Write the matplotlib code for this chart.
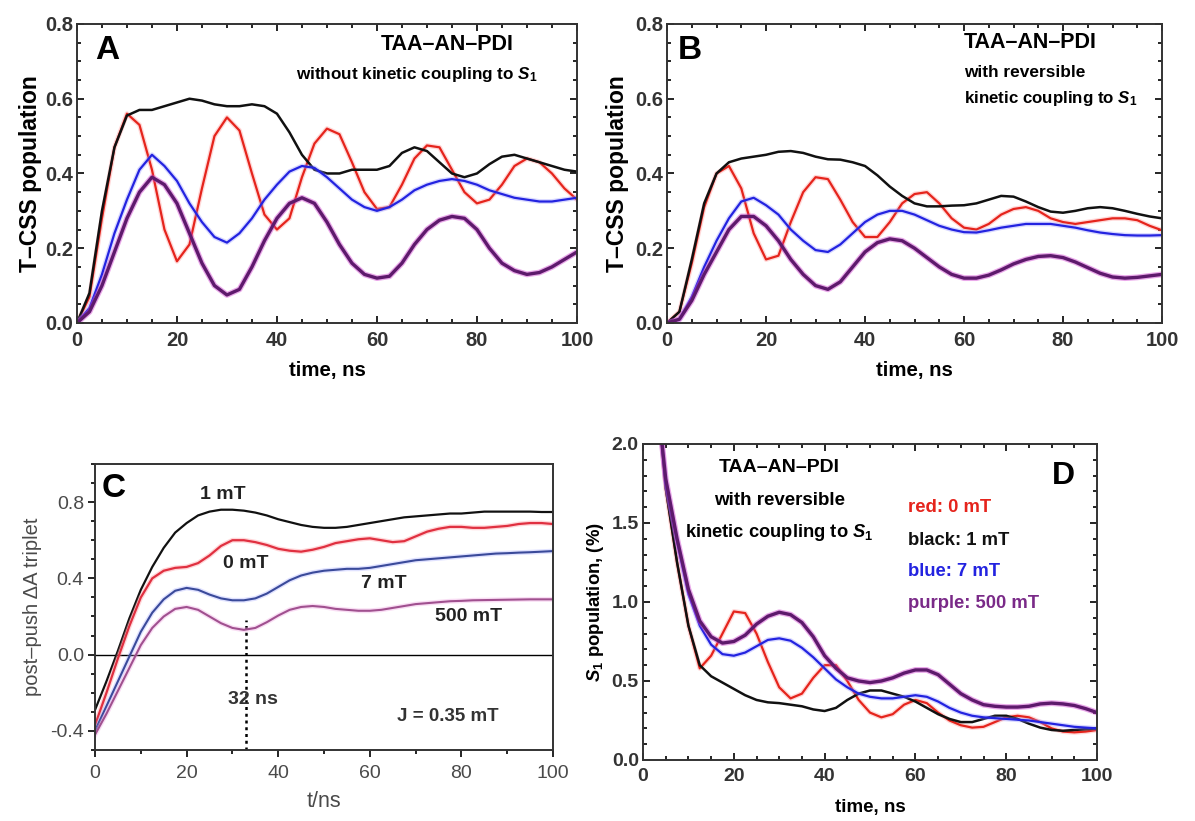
import numpy as np
import matplotlib
matplotlib.use("Agg")
import matplotlib.pyplot as plt
from matplotlib.ticker import MultipleLocator, FormatStrFormatter

plt.rcParams['font.family'] = ['Liberation Sans', 'DejaVu Sans']
plt.rcParams['font.weight'] = 'bold'
plt.rcParams['axes.labelweight'] = 'bold'
plt.rcParams['mathtext.fontset'] = 'custom'
plt.rcParams['mathtext.rm'] = 'Liberation Sans:bold'
plt.rcParams['mathtext.it'] = 'Liberation Sans:bold:italic'
plt.rcParams['mathtext.bf'] = 'Liberation Sans:bold'
plt.rcParams['lines.solid_joinstyle'] = 'round'

# sampling times (ns)
t_ab = np.arange(0, 100.1, 2.5)
t_c = np.arange(0, 100.1, 2.5)
t_d = np.concatenate(([4.0], np.arange(5, 100.1, 2.5)))

# panel A: T-CSS population, no kinetic coupling
a_red = [0, 0.07, 0.28, 0.47, 0.56, 0.53, 0.41, 0.25, 0.165, 0.21, 0.36, 0.50, 0.55, 0.515,
         0.40, 0.29, 0.25, 0.28, 0.39, 0.48, 0.52, 0.505, 0.43, 0.35, 0.305, 0.31, 0.37, 0.44,
         0.475, 0.47, 0.41, 0.35, 0.32, 0.33, 0.37, 0.42, 0.44, 0.43, 0.40, 0.36, 0.33]
a_black = [0, 0.08, 0.30, 0.47, 0.555, 0.57, 0.57, 0.58, 0.59, 0.60, 0.595, 0.585, 0.58, 0.58,
           0.585, 0.58, 0.56, 0.51, 0.45, 0.41, 0.40, 0.40, 0.41, 0.41, 0.41, 0.42, 0.455, 0.47,
           0.46, 0.43, 0.40, 0.39, 0.40, 0.425, 0.445, 0.45, 0.44, 0.43, 0.42, 0.41, 0.405]
a_blue = [0, 0.04, 0.13, 0.24, 0.33, 0.41, 0.45, 0.42, 0.38, 0.32, 0.27, 0.23, 0.215, 0.24,
          0.28, 0.33, 0.37, 0.405, 0.42, 0.415, 0.39, 0.36, 0.33, 0.31, 0.30, 0.31, 0.33, 0.355,
          0.37, 0.38, 0.385, 0.38, 0.37, 0.355, 0.345, 0.335, 0.33, 0.325, 0.325, 0.33, 0.335]
a_purple = [0, 0.03, 0.10, 0.19, 0.28, 0.35, 0.39, 0.37, 0.32, 0.24, 0.16, 0.10, 0.075, 0.09,
            0.15, 0.22, 0.28, 0.32, 0.335, 0.32, 0.27, 0.21, 0.16, 0.13, 0.12, 0.125, 0.16, 0.21,
            0.25, 0.275, 0.285, 0.28, 0.25, 0.20, 0.16, 0.14, 0.13, 0.135, 0.15, 0.17, 0.19]

# panel B: T-CSS population, reversible kinetic coupling
b_red = [0, 0.03, 0.16, 0.31, 0.40, 0.42, 0.36, 0.24, 0.17, 0.18, 0.27, 0.35, 0.39, 0.385,
         0.33, 0.27, 0.23, 0.23, 0.27, 0.32, 0.345, 0.35, 0.32, 0.28, 0.255, 0.25, 0.265, 0.29,
         0.305, 0.31, 0.30, 0.28, 0.27, 0.265, 0.27, 0.275, 0.28, 0.28, 0.275, 0.26, 0.248]
b_black = [0, 0.03, 0.17, 0.32, 0.40, 0.43, 0.44, 0.445, 0.45, 0.458, 0.46, 0.455, 0.445, 0.438,
           0.437, 0.43, 0.42, 0.395, 0.365, 0.34, 0.32, 0.312, 0.312, 0.314, 0.315, 0.32, 0.33,
           0.34, 0.338, 0.325, 0.31, 0.298, 0.295, 0.30, 0.307, 0.31, 0.307, 0.30, 0.292, 0.285, 0.28]
b_blue = [0, 0.01, 0.07, 0.15, 0.22, 0.28, 0.325, 0.335, 0.315, 0.29, 0.25, 0.22, 0.195, 0.19,
          0.21, 0.24, 0.27, 0.29, 0.30, 0.30, 0.29, 0.275, 0.26, 0.25, 0.243, 0.242, 0.248, 0.255,
          0.26, 0.265, 0.265, 0.265, 0.26, 0.255, 0.248, 0.242, 0.238, 0.235, 0.234, 0.234, 0.235]
b_purple = [0, 0.01, 0.06, 0.13, 0.19, 0.25, 0.285, 0.285, 0.26, 0.22, 0.17, 0.13, 0.10, 0.09,
            0.11, 0.15, 0.19, 0.215, 0.225, 0.22, 0.20, 0.175, 0.15, 0.13, 0.12, 0.12, 0.128, 0.142,
            0.158, 0.17, 0.178, 0.18, 0.175, 0.163, 0.148, 0.133, 0.123, 0.12, 0.122, 0.126, 0.13]

# panel C: post-push dA triplet
c_black = [-0.29, -0.14, 0.02, 0.19, 0.34, 0.46, 0.56, 0.64, 0.69, 0.73, 0.75, 0.76, 0.76, 0.755,
           0.745, 0.73, 0.71, 0.695, 0.68, 0.67, 0.665, 0.665, 0.67, 0.68, 0.69, 0.70, 0.71, 0.72,
           0.725, 0.73, 0.735, 0.74, 0.74, 0.745, 0.75, 0.75, 0.75, 0.75, 0.75, 0.748, 0.748]
c_red = [-0.37, -0.20, -0.02, 0.15, 0.30, 0.40, 0.44, 0.455, 0.46, 0.48, 0.52, 0.57, 0.60, 0.60,
         0.59, 0.575, 0.555, 0.545, 0.54, 0.55, 0.565, 0.585, 0.595, 0.605, 0.61, 0.60, 0.59, 0.595,
         0.62, 0.645, 0.66, 0.67, 0.67, 0.665, 0.665, 0.67, 0.675, 0.685, 0.69, 0.69, 0.685]
c_blue = [-0.40, -0.27, -0.14, -0.01, 0.12, 0.22, 0.29, 0.335, 0.35, 0.34, 0.315, 0.295, 0.285,
          0.285, 0.295, 0.32, 0.355, 0.39, 0.415, 0.43, 0.44, 0.445, 0.45, 0.45, 0.455, 0.465, 0.475,
          0.485, 0.495, 0.50, 0.505, 0.51, 0.515, 0.52, 0.525, 0.53, 0.532, 0.535, 0.537, 0.54, 0.543]
c_purple = [-0.42, -0.31, -0.19, -0.07, 0.05, 0.14, 0.20, 0.24, 0.25, 0.235, 0.20, 0.165, 0.14,
            0.13, 0.14, 0.17, 0.205, 0.235, 0.25, 0.255, 0.25, 0.24, 0.235, 0.23, 0.23, 0.235, 0.245,
            0.255, 0.265, 0.27, 0.275, 0.28, 0.282, 0.285, 0.286, 0.287, 0.288, 0.289, 0.29, 0.29, 0.29]
c_labels = ['1 mT', '0 mT', '7 mT', '500 mT']

# panel D: S1 population (%)
d_red = [2.05, 1.72, 1.25, 0.85, 0.58, 0.66, 0.80, 0.94, 0.93, 0.80, 0.62, 0.46, 0.39, 0.42, 0.52,
         0.60, 0.60, 0.50, 0.38, 0.30, 0.27, 0.29, 0.35, 0.38, 0.36, 0.30, 0.25, 0.22, 0.205, 0.21,
         0.24, 0.27, 0.28, 0.27, 0.24, 0.20, 0.18, 0.175, 0.18, 0.19]
d_black = [2.05, 1.72, 1.25, 0.85, 0.60, 0.53, 0.49, 0.45, 0.41, 0.38, 0.365, 0.36, 0.35, 0.34, 0.32,
           0.31, 0.33, 0.38, 0.42, 0.44, 0.44, 0.42, 0.40, 0.37, 0.33, 0.29, 0.26, 0.24, 0.24, 0.26,
           0.28, 0.28, 0.26, 0.23, 0.205, 0.19, 0.185, 0.19, 0.195, 0.20]
d_blue = [2.05, 1.75, 1.38, 1.05, 0.85, 0.73, 0.67, 0.66, 0.68, 0.72, 0.76, 0.77, 0.755, 0.71, 0.65,
          0.58, 0.51, 0.46, 0.42, 0.40, 0.39, 0.39, 0.40, 0.41, 0.40, 0.37, 0.33, 0.30, 0.28, 0.27,
          0.265, 0.26, 0.255, 0.25, 0.24, 0.23, 0.22, 0.21, 0.205, 0.20]
d_purple = [2.05, 1.78, 1.40, 1.08, 0.88, 0.78, 0.74, 0.75, 0.79, 0.86, 0.91, 0.935, 0.92, 0.87, 0.78,
            0.66, 0.58, 0.52, 0.50, 0.49, 0.50, 0.52, 0.55, 0.57, 0.57, 0.54, 0.48, 0.42, 0.38, 0.35,
            0.34, 0.335, 0.335, 0.34, 0.355, 0.36, 0.355, 0.345, 0.325, 0.30]
d_legend = ['red: 0 mT', 'black: 1 mT', 'blue: 7 mT', 'purple: 500 mT']

RED = '#e5241c'
BLACK = '#111111'
BLUE = '#2323e0'
PURPLE = '#5e1a6c'
HALO = '#d040d0'
GREY = '#4a4a4a'


def draw_set(ax, t, red, black, blue, purple):
    ax.plot(t, red, color='#ff9090', lw=3.5, alpha=0.35)
    ax.plot(t, red, color=RED, lw=1.6)
    ax.plot(t, black, color=BLACK, lw=1.8)
    ax.plot(t, blue, color='#9090ff', lw=3.5, alpha=0.35)
    ax.plot(t, blue, color=BLUE, lw=1.6)
    ax.plot(t, purple, color=HALO, lw=4.2, alpha=0.45)
    ax.plot(t, purple, color=PURPLE, lw=2.4)


def style(ax, xmin, xmaj, ymaj, ymin, direction='in', both=True, size=14.5):
    ax.xaxis.set_major_locator(MultipleLocator(xmaj))
    ax.xaxis.set_minor_locator(MultipleLocator(xmin))
    ax.yaxis.set_major_locator(MultipleLocator(ymaj))
    ax.yaxis.set_minor_locator(MultipleLocator(ymin))
    ax.yaxis.set_major_formatter(FormatStrFormatter('%.1f'))
    ax.tick_params(which='both', direction=direction, top=both, right=both, width=1.2,
                   labelsize=size, labelcolor='#333333')
    ax.tick_params(axis='x', which='major', pad=6)
    ax.tick_params(axis='y', which='major', pad=3)
    ax.tick_params(which='major', length=5)
    ax.tick_params(which='minor', length=3)
    for s in ax.spines.values():
        s.set_linewidth(1.4)
        s.set_color('#333333')


fig = plt.figure(figsize=(11.95, 8.21), dpi=100)

# ---- A
axA = fig.add_axes([0.0644, 0.6066, 0.4184, 0.3642])
draw_set(axA, t_ab, a_red, a_black, a_blue, a_purple)
axA.set_xlim(0, 100)
axA.set_ylim(0, 0.8)
style(axA, 5, 20, 0.2, 0.05)
axA.set_xlabel('time, ns', fontsize=14.7, labelpad=8)
axA.set_ylabel('T\u2013CSS population', fontsize=16.5, labelpad=2)
axA.text(6, 0.73, 'A', fontsize=24, fontweight='bold', ha='center', va='center')
axA.text(74, 0.745, 'TAA\u2013AN\u2013PDI', fontsize=15.5, ha='center', va='center')
axA.text(68, 0.665, 'without kinetic coupling to $S_1$', fontsize=12.3, ha='center', va='center')

# ---- B
axB = fig.add_axes([0.5582, 0.6066, 0.4142, 0.3642])
draw_set(axB, t_ab, b_red, b_black, b_blue, b_purple)
axB.set_xlim(0, 100)
axB.set_ylim(0, 0.8)
style(axB, 5, 20, 0.2, 0.05)
axB.set_xlabel('time, ns', fontsize=14.7, labelpad=8)
axB.set_ylabel('T\u2013CSS population', fontsize=16.5, labelpad=4)
axB.text(4.6, 0.73, 'B', fontsize=24, fontweight='bold', ha='center', va='center')
axB.text(60, 0.75, 'TAA\u2013AN\u2013PDI', fontsize=15.5, ha='left', va='center')
axB.text(60, 0.67, 'with reversible', fontsize=12.4, ha='left', va='center')
axB.text(60, 0.60, 'kinetic coupling to $S_1$', fontsize=12.2, ha='left', va='center')

# ---- C  (lighter grey, regular-weight axis text)
axC = fig.add_axes([0.0795, 0.0865, 0.3833, 0.3484])
axC.axhline(0, color='black', lw=1.0)
axC.plot([33, 33], [-0.5, 0.18], color='black', lw=1.8, ls=(0, (1.2, 1.5)))
axC.plot(t_c, c_black, color=BLACK, lw=1.6)
axC.plot(t_c, c_red, color='#ff9aa0', lw=3.5, alpha=0.4)
axC.plot(t_c, c_red, color='#e03040', lw=1.6)
axC.plot(t_c, c_blue, color='#9aa0ff', lw=3.5, alpha=0.3)
axC.plot(t_c, c_blue, color='#3a4a9a', lw=1.5)
axC.plot(t_c, c_purple, color='#f0a0e0', lw=3.5, alpha=0.35)
axC.plot(t_c, c_purple, color='#a0508f', lw=1.5)
axC.set_xlim(0, 100)
axC.set_ylim(-0.5, 1.0)
style(axC, 10, 20, 0.4, 0.1, direction='out', both=False, size=14)
for lab in axC.get_xticklabels() + axC.get_yticklabels():
    lab.set_fontweight('normal')
    lab.set_color(GREY)
axC.set_xlabel('t/ns', fontsize=15.5, labelpad=6, fontweight='normal', color=GREY)
axC.set_ylabel('post\u2013push \u0394A triplet', fontsize=14.5, labelpad=6,
               fontweight='normal', color=GREY)
axC.text(4, 0.87, 'C', fontsize=24, fontweight='bold', ha='center', va='center')
c_pos = [(28, 0.84), (33, 0.48), (63, 0.375), (81.5, 0.20)]
for lab, (x, y) in zip(c_labels, c_pos):
    axC.text(x, y, lab, fontsize=14, ha='center', va='center', color='#222222')
axC.text(34.5, -0.235, '32 ns', fontsize=14, ha='center', va='center', color='#333333')
axC.text(77, -0.325, 'J = 0.35 mT', fontsize=13.5, ha='center', va='center', color='#333333')

# ---- D
axD = fig.add_axes([0.5381, 0.0743, 0.3799, 0.3849])
draw_set(axD, t_d, d_red, d_black, d_blue, d_purple)
axD.set_xlim(0, 100)
axD.set_ylim(0, 2.0)
style(axD, 5, 20, 0.5, 0.1, size=14)
axD.set_xlabel('time, ns', fontsize=13.5, labelpad=10)
axD.set_ylabel('$S_1$ population, (%)', fontsize=13.3, labelpad=4)
axD.text(30, 1.85, 'TAA\u2013AN\u2013PDI', fontsize=14, ha='center', va='center')
axD.text(30, 1.645, 'with reversible', fontsize=13.5, ha='center', va='center')
axD.text(30, 1.44, 'kinetic coupling to $S_1$', fontsize=13.2, ha='center', va='center')
axD.text(92.5, 1.80, 'D', fontsize=23, fontweight='bold', ha='center', va='center')
leg_colors = [RED, BLACK, BLUE, '#7a2a88']
leg_y = [1.60, 1.39, 1.19, 0.99]
for lab, c, y in zip(d_legend, leg_colors, leg_y):
    axD.text(58.4, y, lab, fontsize=13.3, color=c, ha='left', va='center')

fig.savefig('out.png', dpi=100)
